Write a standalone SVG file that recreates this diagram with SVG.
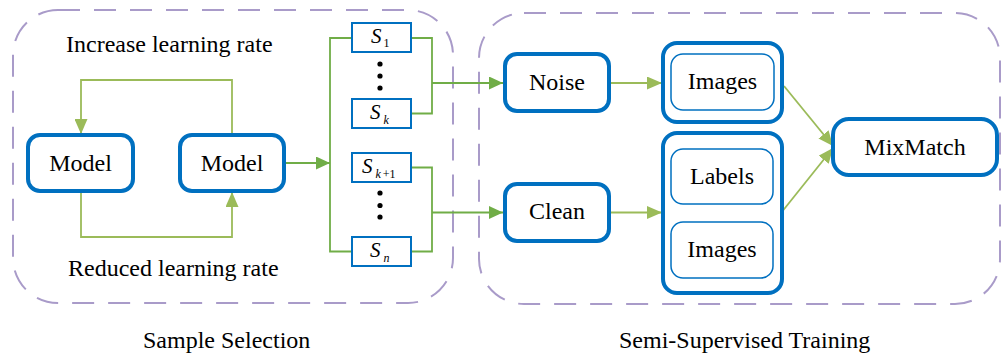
<svg xmlns="http://www.w3.org/2000/svg" width="1002" height="360" viewBox="0 0 1002 360">
  <defs>
    <marker id="headDark" markerUnits="userSpaceOnUse" markerWidth="14" markerHeight="13" refX="14" refY="6.5" orient="auto">
      <path d="M0,0 L14,6.5 L0,13 z" fill="#70AD47"/>
    </marker>
    <marker id="headLight" markerUnits="userSpaceOnUse" markerWidth="15" markerHeight="13" refX="15" refY="6.5" orient="auto">
      <path d="M0,0 L15,6.5 L0,13 z" fill="#9BBB59"/>
    </marker>
  </defs>

  <!-- stage outlines (dashed lavender) -->
  <g id="stage-selection">
    <rect x="13" y="10" width="440" height="293" rx="45" ry="45" fill="none" stroke="#A99BC9" stroke-width="2" stroke-dasharray="22 14"/>
    <text x="143" y="348" font-family="Liberation Serif" font-size="24">Sample Selection</text>
  </g>
  <g id="stage-training">
    <rect x="479" y="13" width="521" height="291" rx="45" ry="45" fill="none" stroke="#A99BC9" stroke-width="2" stroke-dasharray="22 14"/>
    <text x="619" y="348" font-family="Liberation Serif" font-size="24">Semi-Supervised Training</text>
  </g>

  <!-- connectors -->
  <g id="connectors" fill="none" stroke-width="1.8">
    <g stroke="#9BBB59">
      <!-- learning-rate loop -->
      <polyline points="232,135 232,80 81,80 81,134" marker-end="url(#headLight)"/>
      <polyline points="81,191 81,237 232,237 232,192" marker-end="url(#headLight)"/>
      <!-- training branch -->
      <line x1="609" y1="83" x2="662" y2="83" marker-end="url(#headLight)"/>
      <line x1="609" y1="212.5" x2="662" y2="212.5" marker-end="url(#headLight)"/>
      <line x1="784" y1="86" x2="833" y2="146" marker-end="url(#headLight)"/>
      <line x1="781" y1="213" x2="833" y2="148" marker-end="url(#headLight)"/>
    </g>
    <g stroke="#70AD47">
      <!-- model to subsets -->
      <line x1="284" y1="163" x2="330" y2="163" marker-end="url(#headDark)"/>
      <polyline points="352,38 330,38 330,251.5 352,251.5"/>
      <!-- subsets 1..k to noise -->
      <polyline points="411,38 432,38 432,113.5 411,113.5"/>
      <line x1="432" y1="83" x2="503" y2="83" marker-end="url(#headDark)"/>
      <!-- subsets k+1..n to clean -->
      <polyline points="411,167.5 432,167.5 432,251.5 411,251.5"/>
      <line x1="432" y1="212.5" x2="503" y2="212.5" marker-end="url(#headDark)"/>
    </g>
  </g>

  <!-- labels of the loop -->
  <text x="66" y="52" font-family="Liberation Serif" font-size="24">Increase learning rate</text>
  <text x="68" y="276" font-family="Liberation Serif" font-size="24">Reduced learning rate</text>

  <g id="model-a">
    <rect x="28" y="135" width="105" height="56" rx="12" ry="12" fill="#fff" stroke="#0070C0" stroke-width="4"/>
    <text x="80.5" y="171" font-family="Liberation Serif" font-size="24" text-anchor="middle">Model</text>
  </g>
  <g id="model-b">
    <rect x="180" y="135" width="104" height="56" rx="12" ry="12" fill="#fff" stroke="#0070C0" stroke-width="4"/>
    <text x="232" y="171" font-family="Liberation Serif" font-size="24" text-anchor="middle">Model</text>
  </g>

  <g id="subset-1">
    <rect x="352" y="23" width="59" height="29" fill="#fff" stroke="#0070C0" stroke-width="2"/>
    <text x="371" y="43" font-family="Liberation Serif" font-size="21" font-style="italic">S<tspan font-size="12" font-style="normal" dx="2" dy="4">1</tspan></text>
  </g>
  <g id="dots-upper" fill="#000">
    <circle cx="380" cy="64" r="2.6"/>
    <circle cx="380" cy="76" r="2.6"/>
    <circle cx="380" cy="88" r="2.6"/>
  </g>
  <g id="subset-k">
    <rect x="352" y="99" width="59" height="29" fill="#fff" stroke="#0070C0" stroke-width="2"/>
    <text x="370" y="119" font-family="Liberation Serif" font-size="21" font-style="italic">S<tspan font-size="12" dx="3" dy="5">k</tspan></text>
  </g>
  <g id="subset-k1">
    <rect x="352" y="153" width="59" height="29" fill="#fff" stroke="#0070C0" stroke-width="2"/>
    <text x="362" y="173" font-family="Liberation Serif" font-size="21" font-style="italic">S<tspan font-size="12" dx="3" dy="5">k</tspan><tspan font-size="12" font-style="normal" dx="2">+1</tspan></text>
  </g>
  <g id="dots-lower" fill="#000">
    <circle cx="380" cy="193" r="2.6"/>
    <circle cx="380" cy="205.5" r="2.6"/>
    <circle cx="380" cy="217" r="2.6"/>
  </g>
  <g id="subset-n">
    <rect x="352" y="237" width="59" height="29" fill="#fff" stroke="#0070C0" stroke-width="2"/>
    <text x="370" y="257" font-family="Liberation Serif" font-size="21" font-style="italic">S<tspan font-size="12" dx="3" dy="5">n</tspan></text>
  </g>

  <g id="noise">
    <rect x="505" y="54" width="104" height="57" rx="12" ry="12" fill="#fff" stroke="#0070C0" stroke-width="4"/>
    <text x="557" y="90" font-family="Liberation Serif" font-size="24" text-anchor="middle">Noise</text>
  </g>
  <g id="clean">
    <rect x="505" y="184" width="104" height="57" rx="12" ry="12" fill="#fff" stroke="#0070C0" stroke-width="4"/>
    <text x="557" y="219" font-family="Liberation Serif" font-size="24" text-anchor="middle">Clean</text>
  </g>

  <g id="noisy-set">
    <rect x="663" y="43" width="119" height="79" rx="14" ry="14" fill="#fff" stroke="#0070C0" stroke-width="4"/>
    <rect x="671" y="54" width="103" height="56" rx="12" ry="12" fill="#fff" stroke="#0070C0" stroke-width="1.5"/>
    <text x="722.5" y="89" font-family="Liberation Serif" font-size="24" text-anchor="middle">Images</text>
  </g>
  <g id="clean-set">
    <rect x="663" y="133" width="119" height="160" rx="14" ry="14" fill="#fff" stroke="#0070C0" stroke-width="4"/>
    <rect x="671" y="149" width="102" height="55" rx="12" ry="12" fill="#fff" stroke="#0070C0" stroke-width="1.5"/>
    <text x="722" y="184" font-family="Liberation Serif" font-size="24" text-anchor="middle">Labels</text>
    <rect x="671" y="222" width="102" height="56" rx="12" ry="12" fill="#fff" stroke="#0070C0" stroke-width="1.5"/>
    <text x="722" y="257" font-family="Liberation Serif" font-size="24" text-anchor="middle">Images</text>
  </g>

  <g id="mixmatch">
    <rect x="833" y="119" width="164" height="56" rx="16" ry="16" fill="#fff" stroke="#0070C0" stroke-width="4"/>
    <text x="915" y="155" font-family="Liberation Serif" font-size="24" text-anchor="middle">MixMatch</text>
  </g>
</svg>
